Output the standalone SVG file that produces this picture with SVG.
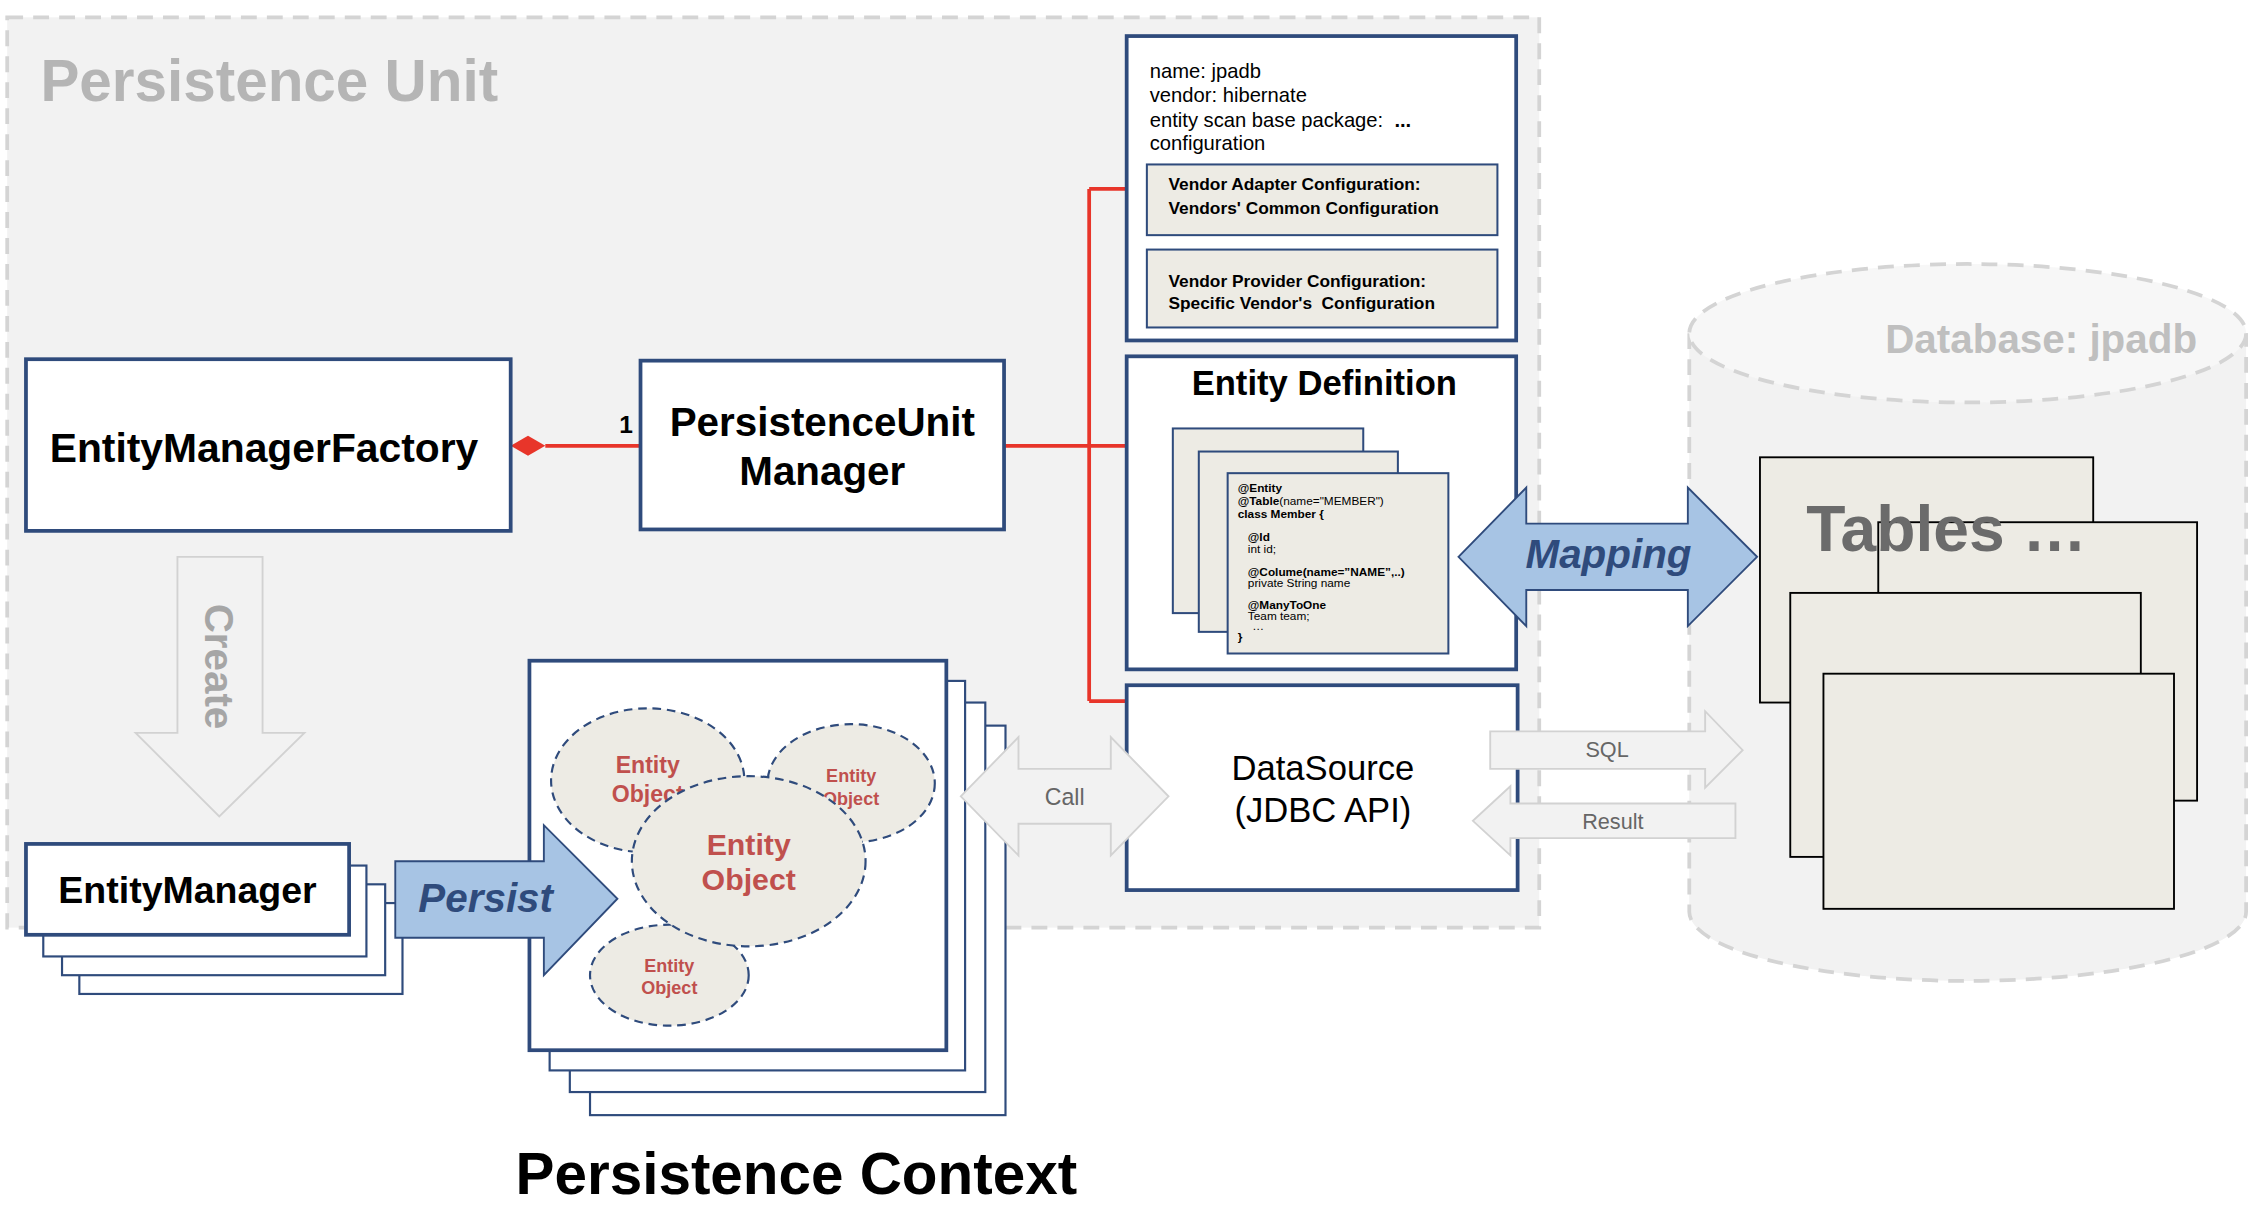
<svg xmlns="http://www.w3.org/2000/svg" width="2262" height="1220" viewBox="0 0 2262 1220">
<defs>
<style>
text{font-family:"Liberation Sans",Arial,sans-serif}
.blue{fill:#fff;stroke:#2f4b7c;stroke-width:2.6}
.card{fill:#edebe4;stroke:#2f4b7c;stroke-width:1.4}
.thin{fill:#fff;stroke:#2f4b7c;stroke-width:1.5}
.tbl{fill:#edebe4;stroke:#000;stroke-width:1.3}
.red{fill:none;stroke:#e8352a;stroke-width:2.6}
.ell{fill:#edebe4;stroke:#2f4b7c;stroke-width:1.5;stroke-dasharray:6 4}
.et{fill:#c0504d;font-weight:bold;text-anchor:middle}
.garrow{fill:#f2f2f2;stroke:#d2d2d2;stroke-width:1.3}
.barrow{fill:#a7c4e4;stroke:#2f4b7c;stroke-width:1.3}
.gt{fill:#666;text-anchor:middle}
.b{font-weight:bold}
.code{font-size:8.2px;fill:#000}
</style>
</defs>
<rect width="2262" height="1220" fill="#fff"/>
<g transform="scale(1.4426)">
<g id="persistence-unit">
<rect x="5" y="12" width="1062" height="631" fill="#f2f2f2" stroke="#d4d4d4" stroke-width="2.6" stroke-dasharray="11 7"/>
<text x="28" y="70" font-size="40.5" font-weight="bold" fill="#b5b5b5">Persistence Unit</text>
</g>
<g id="database">
<path d="M1171,231 V632 A193,48 0 0 0 1557,632 V231" fill="#f2f2f2" stroke="#d4d4d4" stroke-width="2.6" stroke-dasharray="11 7"/>
<ellipse cx="1364" cy="231" rx="193" ry="48" fill="#f7f7f7" stroke="#d4d4d4" stroke-width="2.6" stroke-dasharray="11 7"/>
<text x="1523" y="245" font-size="28" font-weight="bold" fill="#bfbfbf" text-anchor="end">Database: jpadb</text>
</g>
<g id="tables">
<rect class="tbl" x="1220" y="317" width="231" height="170"/>
<rect class="tbl" x="1302" y="362" width="221" height="193"/>
<rect class="tbl" x="1241" y="411" width="243" height="183"/>
<rect class="tbl" x="1264" y="467" width="243" height="163"/>
<text x="1252" y="382" font-size="44.5" font-weight="bold" fill="#6b6b6b">Tables …</text>
</g>
<g id="connectors">
<path class="red" d="M378,309 H444"/>
<polygon points="354,309 366,302 378,309 366,316" fill="#e8352a"/>
<text x="434" y="300" font-size="17" font-weight="bold" text-anchor="middle">1</text>
<path class="red" d="M696,309 H781 M755,131 V486 M755,131 H781 M755,486 H781"/>
</g>
<g id="config">
<rect class="blue" x="781" y="25" width="270" height="211"/>
<text x="797" y="54" font-size="14">name: jpadb</text>
<text x="797" y="71" font-size="14">vendor: hibernate</text>
<text x="797" y="88" font-size="14" xml:space="preserve">entity scan base package:  <tspan font-weight="bold">...</tspan></text>
<text x="797" y="104" font-size="14">configuration</text>
<rect class="card" x="795" y="114" width="243" height="49" stroke-width="1.8"/>
<text x="810" y="132" font-size="12" class="b">Vendor Adapter Configuration:</text>
<text x="810" y="148" font-size="12" class="b">Vendors' Common Configuration</text>
<rect class="card" x="795" y="173" width="243" height="54" stroke-width="1.8"/>
<text x="810" y="199" font-size="12" class="b">Vendor Provider Configuration:</text>
<text x="810" y="214" font-size="12" class="b" xml:space="preserve">Specific Vendor's  Configuration</text>
</g>
<g id="entity-definition">
<rect class="blue" x="781" y="247" width="270" height="217"/>
<text x="918" y="274" font-size="24" class="b" text-anchor="middle">Entity Definition</text>
<rect class="card" x="813" y="297" width="132" height="128"/>
<rect class="card" x="831" y="313" width="138" height="125"/>
<rect class="card" x="851" y="328" width="153" height="125"/>
<text class="code b" x="858" y="341">@Entity</text>
<text class="code" x="858" y="350"><tspan font-weight="bold">@Table</tspan>(name="MEMBER")</text>
<text class="code b" x="858" y="359">class Member {</text>
<text class="code b" x="865" y="375">@Id</text>
<text class="code" x="865" y="383">int id;</text>
<text class="code b" x="865" y="399">@Colume(name=”NAME”,..)</text>
<text class="code" x="865" y="407">private String name</text>
<text class="code b" x="865" y="422">@ManyToOne</text>
<text class="code" x="865" y="430">Team team;</text>
<text class="code" x="868" y="437">…</text>
<text class="code b" x="858" y="444">}</text>
</g>
<g id="datasource">
<rect class="blue" x="781" y="475" width="271" height="142"/>
<text x="917" y="541" font-size="24" text-anchor="middle">DataSource</text>
<text x="917" y="570" font-size="24" text-anchor="middle">(JDBC API)</text>
</g>
<g id="emf">
<rect class="blue" x="18" y="249" width="336" height="119"/>
<text x="183" y="320" font-size="28.3" class="b" text-anchor="middle">EntityManagerFactory</text>
</g>
<g id="pum">
<rect class="blue" x="444" y="250" width="252" height="117"/>
<text x="570" y="302" font-size="28" class="b" text-anchor="middle">PersistenceUnit</text>
<text x="570" y="336" font-size="28" class="b" text-anchor="middle">Manager</text>
</g>
<g id="create">
<path class="garrow" d="M123,386 H182 V508 H211 L152,566 L94,508 H123 Z"/>
<text transform="translate(152,462) rotate(90)" y="10" font-size="28" class="b" fill="#a6a6a6" text-anchor="middle">Create</text>
</g>
<g id="entity-manager">
<rect class="thin" x="55" y="626" width="224" height="63"/>
<rect class="thin" x="43" y="613" width="224" height="63"/>
<rect class="thin" x="30" y="600" width="224" height="63"/>
<rect class="blue" x="18" y="585" width="224" height="63" stroke-width="3"/>
<text x="130" y="626" font-size="26" class="b" text-anchor="middle">EntityManager</text>
</g>
<g id="persistence-context">
<rect class="thin" x="409" y="503" width="288" height="270"/>
<rect class="thin" x="395" y="487" width="288" height="270"/>
<rect class="thin" x="381" y="472" width="288" height="270"/>
<rect class="blue" x="367" y="458" width="289" height="270" stroke-width="3"/>
<ellipse class="ell" cx="449" cy="541" rx="67" ry="50"/>
<text class="et" x="449" y="536" font-size="16">Entity</text>
<text class="et" x="449" y="556" font-size="16">Object</text>
<ellipse class="ell" cx="590" cy="543" rx="58" ry="41"/>
<text class="et" x="590" y="542" font-size="12.5">Entity</text>
<text class="et" x="590" y="558" font-size="12.5">Object</text>
<ellipse class="ell" cx="464" cy="676" rx="55" ry="35"/>
<text class="et" x="464" y="674" font-size="12.5">Entity</text>
<text class="et" x="464" y="689" font-size="12.5">Object</text>
<ellipse class="ell" cx="519" cy="597" rx="81" ry="59"/>
<text class="et" x="519" y="593" font-size="21">Entity</text>
<text class="et" x="519" y="617" font-size="21">Object</text>
<text x="552" y="828" font-size="40.5" class="b" text-anchor="middle">Persistence Context</text>
</g>
<g id="persist">
<path class="barrow" d="M274,597 H377 V572 L428,623 L377,676 V650 H274 Z"/>
<text x="290" y="632" font-size="28" font-weight="bold" font-style="italic" fill="#2f4b7c">Persist</text>
</g>
<g id="call">
<path class="garrow" d="M666,552 L706,511 V533 H770 V511 L810,552 L770,593 V571 H706 V593 Z"/>
<text class="gt" x="738" y="558" font-size="16">Call</text>
</g>
<g id="mapping">
<path class="barrow" d="M1011,386 L1058,338 V363 H1170 V338 L1218,386 L1170,434 V409 H1058 V434 Z"/>
<text x="1115" y="394" font-size="28" font-weight="bold" font-style="italic" fill="#2f4b7c" text-anchor="middle">Mapping</text>
</g>
<g id="sql">
<path class="garrow" d="M1033,507 H1182 V493 L1208,520 L1182,546 V533 H1033 Z"/>
<text class="gt" x="1114" y="525" font-size="15">SQL</text>
</g>
<g id="result">
<path class="garrow" d="M1203,557 H1047 V545 L1021,569 L1047,593 V581 H1203 Z"/>
<text class="gt" x="1118" y="575" font-size="15">Result</text>
</g>
</g>
</svg>
